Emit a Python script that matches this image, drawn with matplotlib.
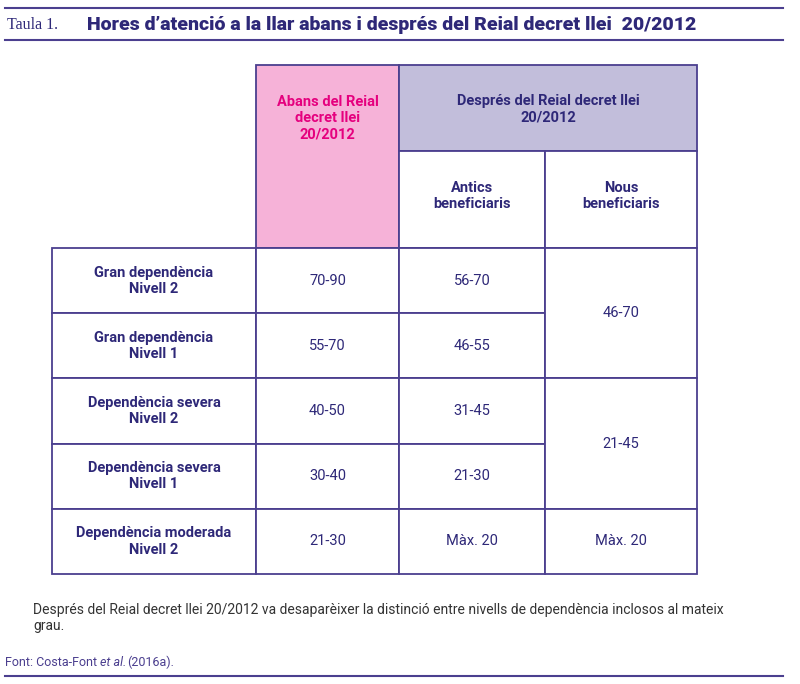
import matplotlib.pyplot as plt
from matplotlib.patches import Rectangle

row_labels = ['Gran dependència\nNivell 2', 'Gran dependència\nNivell 1',
              'Dependència severa\nNivell 2', 'Dependència severa\nNivell 1',
              'Dependència moderada\nNivell 2']
abans = ['70-90', '55-70', '40-50', '30-40', '21-30']
antics = ['56-70', '46-55', '31-45', '21-30', 'Màx. 20']
# Nous beneficiaris: merged cells (first row, number of rows, value)
nous = [(0, 2, '46-70'), (2, 2, '21-45'), (4, 1, 'Màx. 20')]

navy = '#2e2878'
line = '#4b3f8f'
pink = '#f6b2d8'
pinktxt = '#e5007e'
lav = '#c2bedb'
font = 'Roboto'

fig = plt.figure(figsize=(8, 6.84), dpi=100)
ax = fig.add_axes([0, 0, 1, 1])
ax.set_xlim(0, 800)
ax.set_ylim(684, 0)
ax.axis('off')

xs = [52, 256, 399, 545, 697]
ytop, ysub, yhead = 65, 151, 248
rh = 65.2
rows = [yhead + i * rh for i in range(6)]

def box(x0, y0, x1, y1, fc='white'):
    ax.add_patch(Rectangle((x0, y0), x1 - x0, y1 - y0, fc=fc, ec=line, lw=1.3))

# header
box(xs[1], ytop, xs[2], yhead, pink)
box(xs[2], ytop, xs[4], ysub, lav)
box(xs[2], ysub, xs[3], yhead)
box(xs[3], ysub, xs[4], yhead)
kw = dict(ha='center', va='center', fontsize=10.5, fontweight='bold', family=font, linespacing=1.2)
ax.text((xs[1] + xs[2]) / 2, 118, 'Abans del Reial\ndecret llei\n20/2012', color=pinktxt, **kw)
ax.text((xs[2] + xs[4]) / 2, 109, 'Després del Reial decret llei\n20/2012', color=navy, **kw)
ax.text((xs[2] + xs[3]) / 2, 196, 'Antics\nbeneficiaris', color=navy, **kw)
ax.text((xs[3] + xs[4]) / 2, 196, 'Nous\nbeneficiaris', color=navy, **kw)

vkw = dict(ha='center', va='center', fontsize=10.5, family=font, color=navy)
for i in range(5):
    y0, y1 = rows[i], rows[i + 1]
    ym = (y0 + y1) / 2
    box(xs[0], y0, xs[1], y1)
    box(xs[1], y0, xs[2], y1)
    box(xs[2], y0, xs[3], y1)
    ax.text((xs[0] + xs[1]) / 2, ym, row_labels[i], color=navy, **kw)
    ax.text((xs[1] + xs[2]) / 2, ym, abans[i], **vkw)
    ax.text((xs[2] + xs[3]) / 2, ym, antics[i], **vkw)
for r0, n, v in nous:
    box(xs[3], rows[r0], xs[4], rows[r0 + n])
    ax.text((xs[3] + xs[4]) / 2, (rows[r0] + rows[r0 + n]) / 2, v, **vkw)

# title and rules
ax.plot([5, 783], [8, 8], color=line, lw=1.5)
ax.plot([5, 783], [40, 40], color=line, lw=1.5)
ax.text(7, 25, 'Taula 1.', color=navy, fontsize=11.5, family='Liberation Serif', va='center')
ax.text(87, 25, 'Hores d’atenció a la llar abans i després del Reial decret llei  20/2012',
        color=navy, fontsize=14, fontweight='heavy', family=font, va='center')

ax.text(33, 618, 'Després del Reial decret llei 20/2012 va desaparèixer la distinció entre nivells de dependència inclosos al mateix\ngrau.',
        color='#333333', fontsize=10, family=font, va='center', linespacing=1.25)
ax.text(5, 662, 'Font: Costa-Font', color=line, fontsize=9, family=font, va='center')
ax.text(100, 662, 'et al.', color=line, fontsize=9, family=font, style='italic', va='center')
ax.text(127, 662, '(2016a).', color=line, fontsize=9, family=font, va='center')
ax.plot([5, 783], [676, 676], color=line, lw=1.5)

fig.savefig('out.png', dpi=100)
